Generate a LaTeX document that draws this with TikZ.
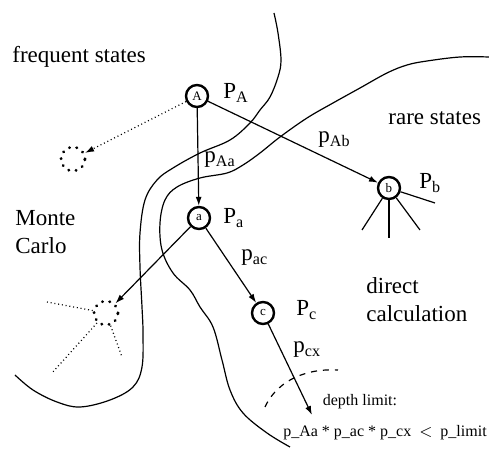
\documentclass[tikz,border=0pt]{standalone}
\usepackage{fontspec}
\setmainfont{Liberation Serif}
\usetikzlibrary{arrows.meta}
\tikzset{
  state/.style={circle, draw, line width=1.2pt, inner sep=0pt,
    minimum size=11pt, font=\fontsize{6.5}{7}\selectfont},
  mcstate/.style={circle, draw, line width=1.5pt, line cap=round,
    dash pattern=on 0.1pt off 3.6pt, inner sep=0pt, minimum size=12pt},
  arr/.style={-{Latex[length=4.5pt,width=3pt]}, semithick},
  dotray/.style={line width=0.6pt, dash pattern=on 0.5pt off 1.4pt},
  region/.style={semithick},
  lbl/.style={anchor=west, inner sep=0pt, font=\fontsize{11.5}{14}\selectfont},
  note/.style={inner sep=0pt, font=\fontsize{8}{9}\selectfont}
}
\begin{document}
\begin{tikzpicture}[x=0.5pt, y=-0.5pt]
  \useasboundingbox (0,0) rectangle (489,449);

  % === REGION BOUNDARIES ===
  \draw[region] plot[smooth, tension=0.6] coordinates {
    (274,13) (278,33) (281,60) (278,77) (270,97) (260,110) (250,123)
    (230,140) (200,153) (173,168) (157,180) (145,200) (140,233)
    (140,267) (142,307) (143,333) (142,367) (133,387) (110,400)
    (80,407) (57,402) (33,390) (15,375)};
  \draw[region] plot[smooth, tension=0.6] coordinates {
    (489,57) (460,57) (427,61) (407,65) (387,73) (360,88) (333,103)
    (307,118) (280,137) (260,153) (243,165) (227,173) (200,178)
    (177,187) (165,200) (160,223) (162,250) (173,273) (190,290)
    (200,307) (213,327) (222,360) (230,390) (243,413) (267,433)
    (290,447)};

  % Depth limit arc
  \draw[dashed, semithick] (265,407) .. controls (275,385) and (300,368) .. (338,370);

  % === REGION TEXTS ===
  \node[lbl] (freq) at (12,57) {frequent states};
  \node[lbl] (rare) at (388,118) {rare states};
  \node[lbl, align=left] (mc) at (15,232) {Monte\\Carlo};
  \node[lbl, align=left] (direct) at (366,300) {direct\\calculation};

  % === STATES ===
  \node[state] (A) at (197,96) {A};
  \node[state] (a) at (199,218) {a};
  \node[state] (b) at (389,188) {b};
  \node[state] (c) at (263,313) {c};
  \node[mcstate] (m1) at (73,159) {};
  \node[mcstate] (m2) at (106,313) {};
  \coordinate (cx) at (312,415);

  % Probabilities of states
  \node[lbl] (PA) at (223,93) {P\textsubscript{A}};
  \node[lbl] (Pa) at (223,218) {P\textsubscript{a}};
  \node[lbl] (Pb) at (419,183) {P\textsubscript{b}};
  \node[lbl] (Pc) at (296,310) {P\textsubscript{c}};

  % === TRANSITIONS ===
  \draw[arr] (A) -- (a);
  \draw[arr] (A) -- (b);
  \draw[arr, dotray] (A) -- (m1);
  \draw[arr] (a) -- (c);
  \draw[arr] (a) -- (m2);
  \draw[arr] (c) -- (cx);

  \node[lbl] (pAa) at (204,160) {p\textsubscript{Aa}};
  \node[lbl] (pAb) at (318,140) {p\textsubscript{Ab}};
  \node[lbl] (pac) at (241,258) {p\textsubscript{ac}};
  \node[lbl] (pcx) at (293,350) {p\textsubscript{cx}};

  % Further transitions out of b and the second sampled state
  \foreach \pt in {(435,203), (420,230), (389,238), (362,230)}
    \draw[semithick] (b) -- \pt;
  \foreach \pt in {(47,302), (52,373), (122,357)}
    \draw[dotray] (m2) -- \pt;

  % === DEPTH LIMIT ===
  \node[note] (depth) at (360,402) {depth limit:};
  \node[note] (cond) at (385,433) {p\_Aa * p\_ac * p\_cx \ $<$ \ p\_limit};
\end{tikzpicture}
\end{document}
